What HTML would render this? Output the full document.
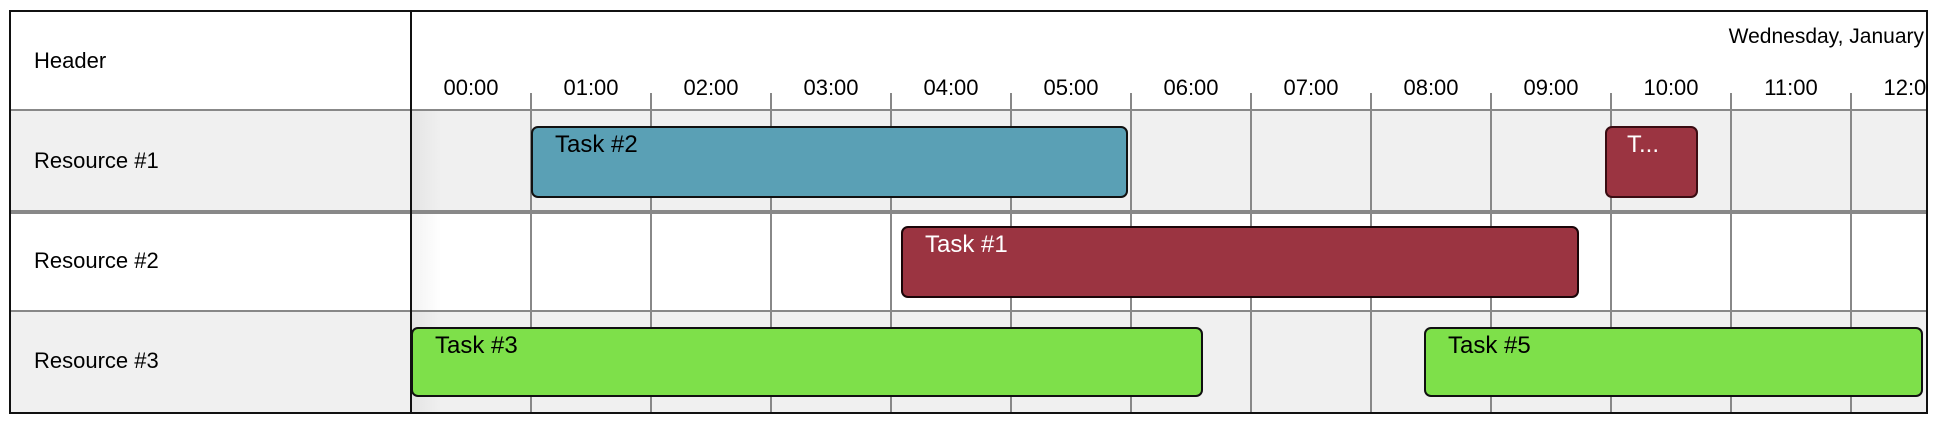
<!DOCTYPE html>
<html><head><meta charset="utf-8"><style>
body{margin:0;width:1936px;height:424px;background:#fff;position:relative;overflow:hidden;font-family:"Liberation Sans",Arial,sans-serif}
.a{position:absolute}
.t{position:absolute;font-size:22px;white-space:nowrap}
.task{position:absolute;box-sizing:border-box;border:2px solid #111;border-radius:7px}
.task span{position:absolute;left:22px;top:3px;font-size:24px}
</style></head><body>
<div class="a" style="left:10px;top:11px;width:1918px;height:402px;background:#fff"></div>
<div class="a" style="left:10px;top:110px;width:1918px;height:102px;background:#f0f0f0"></div>
<div class="a" style="left:10px;top:311px;width:1918px;height:102px;background:#f0f0f0"></div>
<div class="a" style="left:411px;top:110px;width:30px;height:303px;background:linear-gradient(to right,rgba(0,0,0,0.05),rgba(0,0,0,0))"></div>
<svg class="a" style="left:0;top:0" width="1936" height="424">
<g stroke="#888" stroke-width="2">
<line x1="531" y1="93" x2="531" y2="413"/><line x1="651" y1="93" x2="651" y2="413"/><line x1="771" y1="93" x2="771" y2="413"/><line x1="891" y1="93" x2="891" y2="413"/><line x1="1011" y1="93" x2="1011" y2="413"/><line x1="1131" y1="93" x2="1131" y2="413"/><line x1="1251" y1="93" x2="1251" y2="413"/><line x1="1371" y1="93" x2="1371" y2="413"/><line x1="1491" y1="93" x2="1491" y2="413"/><line x1="1611" y1="93" x2="1611" y2="413"/><line x1="1731" y1="93" x2="1731" y2="413"/><line x1="1851" y1="93" x2="1851" y2="413"/>
<line x1="10" y1="110" x2="1928" y2="110"/><line x1="10" y1="311" x2="1928" y2="311"/>
</g>
<line x1="10" y1="212" x2="1928" y2="212" stroke="#888" stroke-width="4"/>
<rect x="10" y="11" width="1917" height="402" fill="none" stroke="#111" stroke-width="2"/>
<line x1="411" y1="11" x2="411" y2="413" stroke="#111" stroke-width="2"/>
</svg>
<div class="t" style="left:34px;top:48px;font-size:22px">Header</div>
<div class="t" style="left:34px;top:148px;font-size:22px">Resource #1</div>
<div class="t" style="left:34px;top:248px;font-size:22px">Resource #2</div>
<div class="t" style="left:34px;top:348px;font-size:22px">Resource #3</div>
<div class="t" style="right:12px;top:25px;font-size:21px">Wednesday, January</div>
<div class="a" style="left:411px;top:75px;width:1517px;height:28px;overflow:hidden">
<div style="display:flex;font-size:22px;width:1600px">
<div style="width:120px;text-align:center">00:00</div><div style="width:120px;text-align:center">01:00</div><div style="width:120px;text-align:center">02:00</div><div style="width:120px;text-align:center">03:00</div><div style="width:120px;text-align:center">04:00</div><div style="width:120px;text-align:center">05:00</div><div style="width:120px;text-align:center">06:00</div><div style="width:120px;text-align:center">07:00</div><div style="width:120px;text-align:center">08:00</div><div style="width:120px;text-align:center">09:00</div><div style="width:120px;text-align:center">10:00</div><div style="width:120px;text-align:center">11:00</div><div style="width:120px;text-align:center">12:00</div>
</div></div>
<div class="task" style="left:531px;top:126px;width:597px;height:72px;background:#5aa0b5"><span>Task #2</span></div>
<div class="task" style="left:1605px;top:126px;width:93px;height:72px;background:#9b3441;border-color:#3a0c12"><span style="color:#fff;left:20px">T...</span></div>
<div class="task" style="left:901px;top:226px;width:678px;height:72px;background:#9b3441;border-color:#1a0508"><span style="color:#fff">Task #1</span></div>
<div class="task" style="left:411px;top:327px;width:792px;height:70px;background:#7ee04a"><span>Task #3</span></div>
<div class="task" style="left:1424px;top:327px;width:499px;height:70px;background:#7ee04a"><span>Task #5</span></div>
</body></html>
